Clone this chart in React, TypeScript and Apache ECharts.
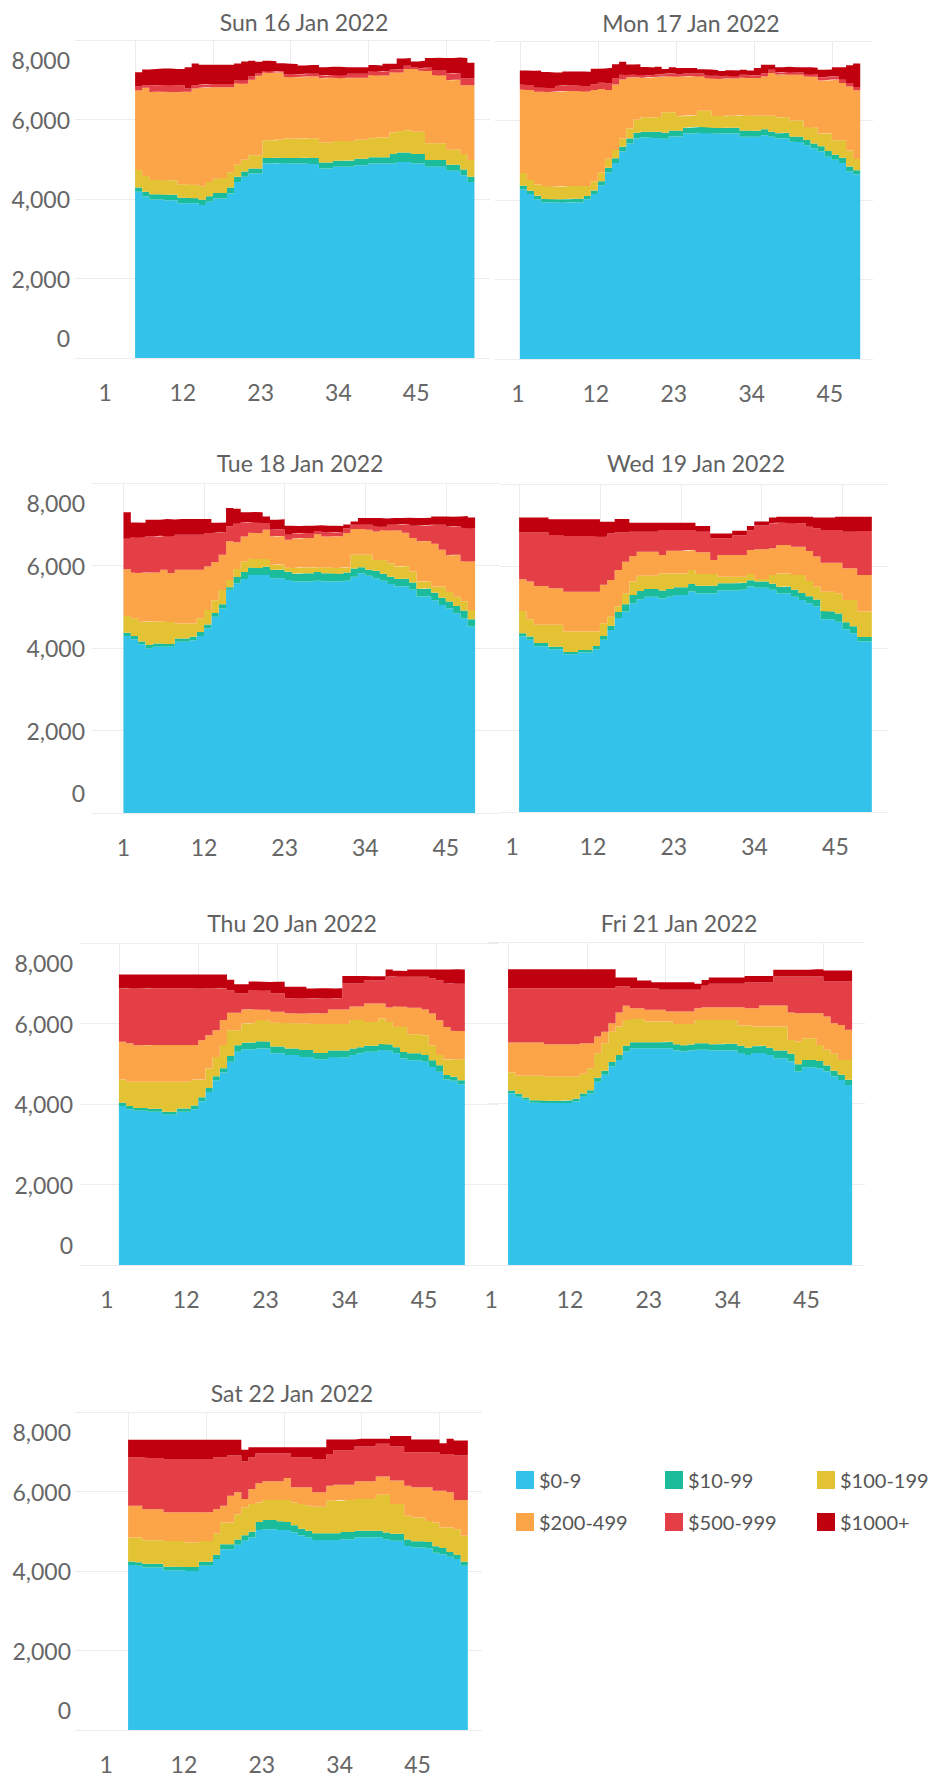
import React, { useEffect, useRef } from "react";
import * as echarts from "echarts";

// ---------- categories / ticks ----------
const buckets = ["$0-9", "$10-99", "$100-199", "$200-499", "$500-999", "$1000+"];
const days = [
  "Sun 16 Jan 2022",
  "Mon 17 Jan 2022",
  "Tue 18 Jan 2022",
  "Wed 19 Jan 2022",
  "Thu 20 Jan 2022",
  "Fri 21 Jan 2022",
  "Sat 22 Jan 2022",
];
const periods = [
  1, 2, 3, 4, 5, 6, 7, 8, 9, 10, 11, 12, 13, 14, 15, 16, 17, 18, 19, 20, 21, 22, 23, 24,
  25, 26, 27, 28, 29, 30, 31, 32, 33, 34, 35, 36, 37, 38, 39, 40, 41, 42, 43, 44, 45, 46, 47, 48,
];
const periodTicks = [1, 12, 23, 34, 45];

// ---------- Sunday ----------
const sun0_9 = [4180,4060,3990,3990,3970,3970,3890,3890,3890,3850,3930,4010,4010,4140,4430,4560,4640,4640,4890,4890,4900,4890,4890,4890,4890,4880,4770,4770,4810,4810,4810,4850,4850,4890,4890,4890,4890,4930,4930,4890,4890,4810,4810,4810,4710,4710,4600,4430];
const sun10_99 = [110,120,130,130,140,140,140,140,130,130,140,140,140,150,130,130,130,130,140,140,140,140,140,140,150,150,150,150,150,150,160,160,160,160,160,160,240,240,240,240,240,170,170,170,150,150,140,130];
const sun100_199 = [440,400,360,360,360,360,340,340,340,340,360,360,380,380,300,300,330,330,450,450,450,490,490,490,490,490,500,500,500,500,480,480,480,480,500,500,540,540,560,560,560,420,420,420,380,380,390,420];
const sun200_499 = [2000,2220,2210,2220,2230,2220,2320,2330,2420,2480,2380,2300,2280,2140,2050,1910,1900,2000,1700,1690,1690,1550,1540,1550,1550,1560,1620,1630,1590,1580,1600,1560,1560,1590,1560,1560,1520,1470,1540,1580,1540,1820,1720,1710,1750,1760,1730,1880];
const sun500_999 = [100,60,170,170,170,170,170,80,80,80,80,80,80,80,80,80,80,60,40,40,40,70,70,70,70,70,70,70,70,70,100,100,100,100,100,110,60,80,80,50,60,80,120,120,170,170,170,170];
const sun1000 = [360,400,410,410,410,410,410,535,550,500,490,490,490,490,420,480,400,295,255,255,195,265,265,220,220,220,205,205,205,205,165,165,165,150,150,185,150,275,195,140,185,245,315,315,390,390,515,400];

// ---------- Monday ----------
const mon0_9 = [4270,4150,4020,3940,3940,3940,3930,3940,3940,4020,4150,4370,4700,4930,5220,5420,5550,5570,5570,5560,5540,5600,5600,5670,5670,5690,5680,5670,5670,5670,5670,5590,5590,5590,5630,5590,5550,5550,5470,5460,5380,5300,5220,5090,5010,4930,4720,4640];
const mon10_99 = [90,80,90,90,80,80,90,90,90,80,90,100,110,120,120,130,140,150,150,160,150,150,140,150,160,150,150,150,140,150,150,160,150,150,150,130,130,140,130,130,130,120,130,140,130,130,120,110];
const mon100_199 = [320,275,280,320,320,320,330,320,320,255,230,220,230,205,205,250,330,360,360,370,515,455,370,300,300,405,415,300,300,300,300,380,380,380,340,400,400,400,400,410,325,405,320,450,365,445,405,280];
const mon200_499 = [2100,2265,2335,2375,2375,2390,2390,2390,2390,2375,2295,2100,1730,1650,1485,1280,1070,990,1005,1005,905,905,990,990,990,865,825,935,935,935,935,950,950,950,990,1075,1070,1070,1150,1150,1275,1275,1335,1335,1525,1440,1610,1730];
const mon500_999 = [125,125,100,100,100,140,140,140,140,140,150,160,160,160,120,65,60,70,60,70,60,70,60,70,60,70,60,70,60,70,60,70,60,70,80,80,60,60,60,60,60,60,80,80,80,80,90,85];
const mon1000 = [355,355,435,395,395,340,355,355,355,355,385,360,395,350,330,265,265,205,190,190,125,160,160,140,140,110,150,140,140,140,140,125,125,180,210,125,130,130,130,130,170,170,190,190,230,315,445,590];

// ---------- Tuesday ----------
const tue0_9 = [4290,4210,4090,3990,4030,4030,4030,4150,4150,4190,4290,4470,4760,4960,5410,5570,5670,5770,5770,5770,5690,5690,5650,5610,5610,5610,5630,5610,5610,5610,5630,5730,5810,5750,5690,5630,5550,5490,5490,5410,5250,5250,5160,5040,4960,4840,4720,4520];
const tue10_99 = [80,80,70,80,80,80,70,80,80,80,100,100,90,100,60,150,170,180,170,200,200,210,200,190,200,200,210,200,200,190,200,200,150,150,180,170,180,180,190,180,180,190,180,180,170,180,190,180];
const tue100_199 = [405,430,470,570,530,530,530,365,365,325,330,350,305,345,180,195,255,215,215,185,125,125,100,140,140,140,120,140,140,140,120,330,300,360,265,325,325,305,305,265,180,180,150,270,225,225,225,220];
const tue200_499 = [1135,1110,1190,1190,1190,1255,1190,1300,1300,1300,1175,1055,930,855,935,650,610,630,630,710,690,690,675,715,715,715,795,755,755,770,835,625,625,605,690,730,795,875,810,810,975,975,1035,890,895,1015,970,1175];
const tue500_999 = [740,860,860,875,875,825,890,850,850,850,850,810,705,540,365,445,340,260,260,165,160,160,120,120,120,120,80,95,95,105,120,100,105,125,125,85,140,140,205,300,380,380,465,610,690,690,810,810];
const tue1000 = [640,355,355,405,405,405,405,380,380,380,380,340,245,245,445,365,245,245,245,160,245,245,220,180,180,180,140,165,165,140,90,80,160,160,200,200,160,160,160,185,185,185,200,200,240,240,285,260];

// ---------- Wednesday ----------
const wed0_9 = [4280,4200,4040,4040,3970,3970,3850,3850,3890,3890,3970,4200,4440,4730,4890,5090,5190,5250,5250,5210,5250,5290,5290,5380,5330,5330,5330,5400,5400,5400,5420,5500,5470,5470,5420,5330,5330,5250,5170,5090,5010,4700,4700,4640,4460,4360,4160,4160];
const wed10_99 = [80,80,80,80,60,60,50,50,60,60,80,90,100,150,180,200,200,190,190,190,190,190,190,180,190,190,190,180,180,180,170,150,150,150,150,160,170,170,170,170,170,200,190,200,170,170,110,110];
const wed100_199 = [545,420,445,445,535,535,500,500,450,450,350,315,225,130,265,330,375,325,325,420,380,340,340,345,285,285,285,160,160,160,150,155,60,60,210,330,320,360,440,375,315,475,485,495,540,640,620,620];
const wed200_499 = [770,920,950,950,890,890,975,975,975,975,975,935,895,895,770,625,585,585,585,450,555,555,555,485,530,530,340,530,530,530,530,585,730,730,650,690,690,690,690,730,735,705,705,745,775,775,890,890];
const wed500_999 = [1140,1195,1300,1300,1300,1300,1355,1355,1355,1355,1355,1175,1135,910,710,590,485,485,485,610,505,505,505,490,500,500,530,405,405,480,480,485,575,575,610,545,545,570,570,595,690,800,800,800,890,890,1075,1075];
const wed1000 = [365,365,365,365,385,385,410,410,410,410,410,365,285,330,330,220,220,220,220,175,175,175,175,175,140,140,120,120,120,110,110,100,100,100,140,145,145,160,160,240,260,300,300,320,365,365,345,345];

// ---------- Thursday ----------
const thu0_9 = [3950,3870,3830,3830,3810,3810,3730,3730,3810,3810,3870,4070,4300,4590,4780,5050,5300,5360,5360,5380,5380,5260,5260,5220,5220,5170,5170,5110,5110,5170,5160,5160,5220,5260,5300,5300,5340,5320,5260,5130,5090,5090,5050,4920,4800,4610,4580,4490];
const thu10_99 = [80,80,70,70,70,70,80,80,80,80,90,100,100,100,110,140,160,160,170,180,170,170,170,160,160,170,170,160,160,160,170,170,160,150,150,150,150,160,150,160,170,170,170,170,160,110,100,100];
const thu100_199 = [580,605,650,650,675,675,745,745,665,665,640,440,480,480,575,645,375,480,480,525,525,590,590,625,625,660,660,720,720,655,660,660,705,675,590,590,635,560,510,625,475,475,490,370,255,385,430,515];
const thu200_499 = [935,955,910,910,910,910,910,910,910,910,865,975,830,665,620,435,435,345,345,265,265,275,275,250,250,250,250,265,265,360,360,360,335,335,455,455,370,355,500,500,655,655,635,790,865,810,710,710];
const thu500_999 = [1325,1365,1410,1410,1410,1410,1410,1410,1410,1410,1410,1285,1160,1035,790,555,475,400,480,480,480,455,455,370,370,370,370,370,370,275,275,645,575,575,580,580,580,765,745,745,770,770,815,865,995,1075,1175,1175];
const thu1000 = [345,345,345,345,345,345,345,345,345,345,345,345,345,345,345,265,230,230,210,210,210,290,290,290,290,290,250,250,250,250,250,185,185,185,100,100,100,180,145,145,180,180,180,225,265,350,350,350];

// ---------- Friday ----------
const fri0_9 = [4250,4170,4090,4020,4020,4010,4010,4010,4010,4050,4170,4250,4540,4710,4920,5080,5290,5370,5370,5370,5370,5370,5370,5310,5290,5310,5330,5330,5310,5310,5310,5310,5250,5200,5250,5250,5200,5120,5120,5040,4790,4900,4900,4870,4790,4670,4580,4460];
const fri10_99 = [70,70,60,60,60,60,60,60,70,70,80,80,100,100,110,120,140,150,150,150,150,150,160,160,150,150,160,160,160,160,170,170,180,180,170,180,180,190,190,190,180,180,180,180,150,140,130,130];
const fri100_199 = [445,445,535,605,605,595,595,595,585,545,485,545,605,685,750,705,640,570,570,510,510,510,500,500,530,510,580,580,600,600,590,590,500,550,485,475,525,595,595,345,565,535,535,400,390,420,370,490];
const fri200_499 = [745,825,825,825,825,805,805,805,805,805,760,620,415,285,210,350,350,270,270,290,290,290,250,310,310,310,290,315,315,315,315,315,455,430,455,520,520,520,520,680,700,620,620,785,825,760,865,745];
const fri500_999 = [1345,1345,1345,1345,1345,1385,1385,1385,1385,1385,1360,1360,1195,1075,865,640,475,495,495,535,535,495,535,535,535,535,455,530,580,580,580,580,580,640,640,575,575,720,720,890,910,910,910,910,865,1030,1075,1195];
const fri1000 = [470,470,470,470,470,470,470,470,470,470,470,470,470,470,470,225,225,265,190,190,150,190,190,190,190,190,150,145,155,155,155,155,155,160,160,160,160,165,165,165,165,165,180,180,275,275,275,275];

// ---------- Saturday ----------
const sat0_9 = [4150,4130,4090,4090,4090,4020,4020,4020,4000,4000,4130,4130,4300,4550,4550,4660,4760,4840,5030,5050,5050,5030,5030,4970,4890,4840,4780,4780,4780,4780,4800,4800,4840,4840,4840,4840,4800,4760,4760,4630,4590,4590,4570,4460,4420,4360,4300,4130];
const sat10_99 = [90,90,90,90,90,90,90,90,100,100,100,100,110,120,120,130,140,150,200,230,230,220,200,180,170,170,170,170,170,170,180,180,170,170,170,170,170,180,180,160,160,160,160,160,160,120,110,100];
const sat100_199 = [600,620,595,595,595,645,645,645,615,615,525,525,530,550,550,640,700,695,495,505,505,535,555,575,625,630,665,665,820,820,805,805,800,800,800,910,950,745,745,600,595,595,530,600,515,615,640,655];
const sat200_499 = [800,800,780,780,780,720,720,720,760,760,720,720,615,420,675,550,210,375,480,470,470,470,555,380,420,465,365,365,375,400,385,385,445,445,445,455,455,590,590,755,760,760,845,800,925,885,735,900];
const sat500_999 = [1220,1220,1305,1290,1290,1345,1345,1345,1345,1345,1345,1345,1305,1220,1010,925,950,800,760,710,710,710,625,755,755,755,840,840,800,860,860,860,875,875,875,825,825,855,855,845,885,885,885,970,925,965,1120,1120];
const sat1000 = [440,440,440,455,455,480,480,480,480,480,480,480,440,440,395,395,290,255,150,150,150,150,150,255,255,255,295,295,365,280,280,280,195,195,195,125,125,265,265,405,320,320,320,320,270,380,380,380];

const dayData = [
  [sun0_9, sun10_99, sun100_199, sun200_499, sun500_999, sun1000],
  [mon0_9, mon10_99, mon100_199, mon200_499, mon500_999, mon1000],
  [tue0_9, tue10_99, tue100_199, tue200_499, tue500_999, tue1000],
  [wed0_9, wed10_99, wed100_199, wed200_499, wed500_999, wed1000],
  [thu0_9, thu10_99, thu100_199, thu200_499, thu500_999, thu1000],
  [fri0_9, fri10_99, fri100_199, fri200_499, fri500_999, fri1000],
  [sat0_9, sat10_99, sat100_199, sat200_499, sat500_999, sat1000],
];

// ---------- styling / layout ----------
const COLORS = ["#32C2EA", "#1BBC9B", "#E3C234", "#FBA548", "#E43E46", "#C1000F"];
const FONT = 'Lato, "Noto Sans", sans-serif';
const LABEL_COLOR = "#666666";
const TITLE_COLOR = "#616161";
const GRID_COLOR = "#ececec";

const panelLayout = [
  { left: 75, right: 490, top: 39, bottom: 358, xMin: -7.5, xMax: 51.2, yLabels: true, yMargin: 5, xShift: 30, tx: 304, ty: 22 },
  { left: 495, right: 873, top: 41, bottom: 359, xMin: -2.5, xMax: 50.8, yLabels: false, yMargin: 5, xShift: 2, tx: 691, ty: 23 },
  { left: 92, right: 500, top: 483, bottom: 813, xMin: -3.3, xMax: 52.4, yLabels: true, yMargin: 7, xShift: 0, tx: 300, ty: 463 },
  { left: 500, right: 888, top: 484, bottom: 812, xMin: -1.6, xMax: 51.2, yLabels: false, yMargin: 5, xShift: 7, tx: 696, ty: 463 },
  { left: 80, right: 498, top: 943, bottom: 1265, xMin: -4.4, xMax: 53.6, yLabels: true, yMargin: 7, xShift: 12, tx: 292, ty: 923 },
  { left: 488, right: 865, top: 942, bottom: 1265, xMin: -1.8, xMax: 50.8, yLabels: false, yMargin: 5, xShift: 17, tx: 679, ty: 923 },
  { left: 75, right: 482, top: 1412, bottom: 1730, xMin: -6.5, xMax: 51.0, yLabels: true, yMargin: 4, xShift: 22, tx: 292, ty: 1393 },
];

const legendColumns = [
  ["$0-9", "$200-499"],
  ["$10-99", "$500-999"],
  ["$100-199", "$1000+"],
];
const legendX = [516, 665, 817];

function formatY(v: number) {
  const s = v.toLocaleString("en-US");
  if (v === 8000) return "\n" + s;
  if (v === 0) return s + "\n";
  return s;
}

function buildOption() {
  const grid = panelLayout.map((p) => ({
    left: p.left,
    top: p.top,
    width: p.right - p.left,
    height: p.bottom - p.top,
    containLabel: false,
  }));

  const xAxis = panelLayout.map((p, i) => ({
    type: "value",
    gridIndex: i,
    min: p.xMin,
    max: p.xMax,
    axisLine: { show: false },
    axisTick: { show: false, customValues: periodTicks },
    axisLabel: {
      customValues: periodTicks,
      margin: 22,
      fontSize: 23,
      fontFamily: FONT,
      color: LABEL_COLOR,
      padding: [0, p.xShift * 2, 0, 0],
    },
    splitLine: { show: true, lineStyle: { color: GRID_COLOR, width: 1 } },
  }));

  const yAxis = panelLayout.map((p, i) => ({
    type: "value",
    gridIndex: i,
    min: 0,
    max: 8000,
    interval: 2000,
    axisLine: { show: false },
    axisTick: { show: false },
    axisLabel: {
      show: p.yLabels,
      margin: p.yMargin,
      fontSize: 23,
      fontFamily: FONT,
      color: LABEL_COLOR,
      lineHeight: 40,
      formatter: formatY,
    },
    splitLine: { show: true, lineStyle: { color: GRID_COLOR, width: 1 } },
  }));

  const series: any[] = [];
  dayData.forEach((layers, i) => {
    layers.forEach((vals, j) => {
      const pts = vals.map((v, k) => [v, periods[k]]);
      // closing point of the last step
      pts.push([vals[vals.length - 1], periods[periods.length - 1] + 1]);
      series.push({
        type: "line",
        name: buckets[j],
        xAxisIndex: i,
        yAxisIndex: i,
        stack: "day" + i,
        step: "end",
        encode: { x: 1, y: 0 },
        symbol: "none",
        showSymbol: false,
        color: COLORS[j],
        itemStyle: { color: COLORS[j] },
        lineStyle: { width: 0, color: COLORS[j] },
        areaStyle: { color: COLORS[j], opacity: 1 },
        emphasis: { disabled: true },
        silent: true,
        data: pts,
      });
    });
  });

  const legend = legendColumns.map((names, c) => ({
    data: names,
    orient: "vertical",
    left: legendX[c],
    top: 1468,
    padding: 0,
    itemWidth: 18,
    itemHeight: 18,
    itemGap: 18,
    icon: "rect",
    selectedMode: false,
    itemStyle: { borderWidth: 0 },
    textStyle: { fontSize: 20, fontFamily: FONT, color: "#555555", lineHeight: 24 },
  }));

  const graphic = panelLayout.map((p, i) => ({
    type: "text",
    x: p.tx,
    y: p.ty,
    silent: true,
    style: {
      text: days[i],
      fontSize: 23,
      fontWeight: "normal",
      fontFamily: FONT,
      fill: TITLE_COLOR,
      align: "center",
      verticalAlign: "middle",
    },
  }));

  return {
    animation: false,
    backgroundColor: "#ffffff",
    grid,
    xAxis,
    yAxis,
    series,
    legend,
    graphic,
  };
}

export default function App() {
  const ref = useRef<HTMLDivElement>(null);
  useEffect(() => {
    if (!ref.current) return;
    const chart = echarts.init(ref.current, null, { renderer: "svg" });
    chart.setOption(buildOption() as any);
    return () => {
      chart.dispose();
    };
  }, []);
  return (
    <div
      ref={ref}
      style={{ position: "absolute", left: 0, top: 0, width: 936, height: 1776, background: "#fff" }}
    />
  );
}
